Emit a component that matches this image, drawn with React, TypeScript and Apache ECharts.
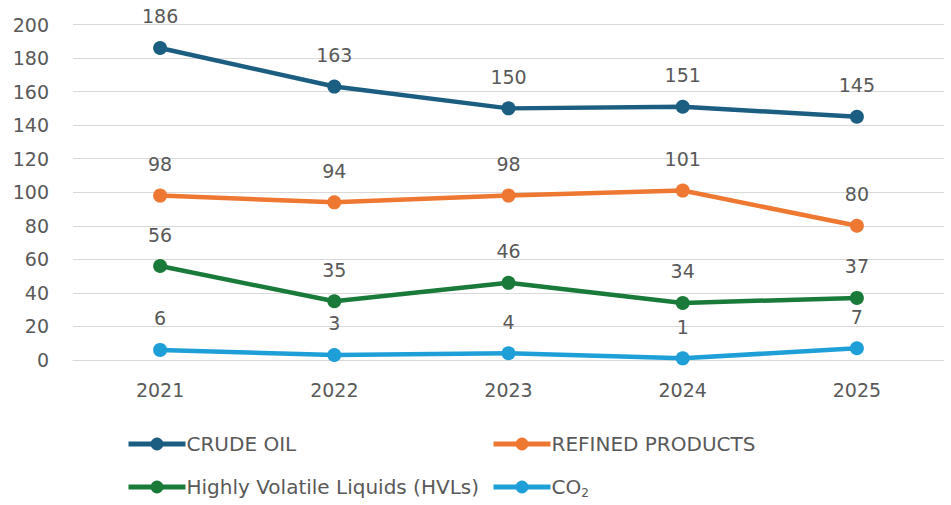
import React, { useEffect, useRef } from "react";
import * as echarts from "echarts";

const years = ["2021", "2022", "2023", "2024", "2025"];
const crudeOil = [186, 163, 150, 151, 145];
const refinedProducts = [98, 94, 98, 101, 80];
const hvls = [56, 35, 46, 34, 37];
const co2 = [6, 3, 4, 1, 7];
const seriesNames = ["CRUDE OIL", "REFINED PRODUCTS", "Highly Volatile Liquids (HVLs)", "CO2"];
const colors = ["#1b5e82", "#ee7732", "#1a7a3a", "#1f9fd8"];

const FONT = "'DejaVu Sans', sans-serif";
const GRAY = "#595959";

export default function App() {
  const ref = useRef<HTMLDivElement>(null);
  useEffect(() => {
    if (!ref.current) return;
    const chart = echarts.init(ref.current, undefined, { renderer: "svg" });
    const datasets = [crudeOil, refinedProducts, hvls, co2];
    const legendPos = [
      { left: 126, top: 434 },
      { left: 491, top: 434 },
      { left: 126, top: 477 },
      { left: 491, top: 477 },
    ];
    chart.setOption({
      animation: false,
      grid: { left: 73, right: 7, top: 24.5, bottom: 145 },
      xAxis: {
        type: "category",
        data: years,
        boundaryGap: true,
        axisLine: { show: true, lineStyle: { color: "#d9d9d9", width: 1 } },
        axisTick: { show: false },
        axisLabel: { color: GRAY, fontSize: 19, fontFamily: FONT, margin: 20 },
      },
      yAxis: {
        type: "value",
        min: 0,
        max: 200,
        interval: 20,
        axisLine: { show: false },
        axisTick: { show: false },
        splitLine: { lineStyle: { color: "#d9d9d9", width: 1 } },
        axisLabel: { color: GRAY, fontSize: 19, fontFamily: FONT, margin: 24 },
      },
      legend: seriesNames.map((n, i) => ({
        data: [n],
        left: legendPos[i].left,
        top: legendPos[i].top,
        padding: 0,
        itemWidth: 57,
        itemHeight: 16,
        itemGap: 0,
        lineStyle: { width: 5 },
        textStyle: {
          color: GRAY,
          fontSize: 20,
          fontFamily: FONT,
          padding: [0, 0, 0, -4],
          rich: {
            a: { color: GRAY, fontSize: 20, fontFamily: FONT },
            sub: { color: GRAY, fontSize: 12, fontFamily: FONT, verticalAlign: "bottom", padding: [12, 0, 0, 0] },
          },
        },
        formatter: (name: string) => (name === "CO2" ? "{a|CO}{sub|2}" : name),
      })),
      series: seriesNames.map((n, i) => ({
        name: n,
        type: "line",
        data: datasets[i],
        color: colors[i],
        symbol: "circle",
        symbolSize: 14,
        lineStyle: { width: 4.5, color: colors[i] },
        itemStyle: { color: colors[i] },
        label: {
          show: true,
          position: "top",
          distance: 15,
          color: GRAY,
          fontSize: 19,
          fontFamily: FONT,
        },
      })),
    });
    return () => chart.dispose();
  }, []);
  return <div ref={ref} style={{ width: 951, height: 505, position: "absolute", left: 0, top: 0 }} />;
}
